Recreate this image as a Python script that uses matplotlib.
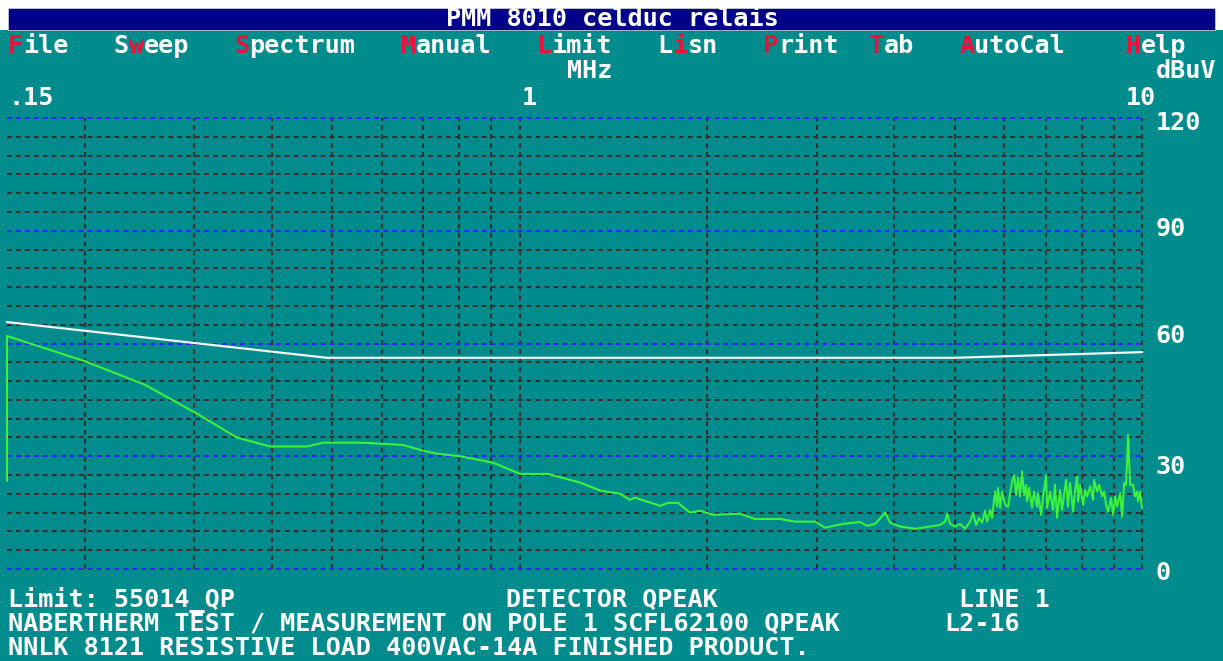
import matplotlib.pyplot as plt
from matplotlib.patches import Rectangle

# ---- screen text -------------------------------------------------------
TITLE = "PMM 8010 celduc relais"
# (column, word, index of the red hot key letter)
MENU = [(0, "File", 0), (7, "Sweep", 1), (15, "Spectrum", 0), (26, "Manual", 0),
        (35, "Limit", 0), (43, "Lisn", 1), (50, "Print", 0), (57, "Tab", 0),
        (63, "AutoCal", 0), (74, "Help", 0)]
X_UNIT = "MHz"
Y_UNIT = "dBuV"
FREQ_LABELS = [(0, ".15"), (34, "1"), (74, "10")]
LEVEL_LABELS = ["120", "90", "60", "30", "0"]
# (column, line, text)
FOOTER = [(0, 0, "Limit: 55014_QP"), (33, 0, "DETECTOR QPEAK"), (63, 0, "LINE 1"),
          (0, 1, "NABERTHERM TEST / MEASUREMENT ON POLE 1 SCFL62100 QPEAK"),
          (62, 1, "L2-16"),
          (0, 2, "NNLK 8121 RESISTIVE LOAD 400VAC-14A FINISHED PRODUCT.")]

# ---- data --------------------------------------------------------------
limit_mhz = [0.15, 0.49, 5.0, 10.0]
limit_db = [65.7, 56.2, 56.2, 57.7]

trace_mhz = [0.150, 0.150, 0.200, 0.250, 0.301, 0.351, 0.397, 0.455, 0.483, 0.560,
             0.649, 0.699, 0.736, 0.802, 0.906, 1.001, 1.110, 1.250, 1.346, 1.450,
             1.504, 1.532, 1.681, 1.731, 1.797, 1.878, 1.949, 2.045, 2.260, 2.389,
             2.621, 2.771, 2.983, 3.096, 3.308, 3.524, 3.616, 3.726, 3.866, 3.938,
             4.086, 4.318, 4.737,
             4.827, 4.863, 4.917, 5.008, 5.102, 5.197, 5.293, 5.353, 5.413, 5.473,
             5.534, 5.595, 5.638, 5.700, 5.742, 5.806, 5.849, 5.870, 5.916, 5.959,
             6.026, 6.093, 6.183, 6.230, 6.276, 6.322, 6.369, 6.416, 6.463, 6.511,
             6.535, 6.585, 6.658, 6.707, 6.782, 6.808, 6.883, 6.935, 7.012, 7.038,
             7.116, 7.195, 7.248, 7.304, 7.385, 7.439, 7.494, 7.551, 7.606, 7.662,
             7.750, 7.807, 7.865, 7.894, 7.953, 8.041, 8.103, 8.162, 8.253, 8.345,
             8.375, 8.468, 8.533, 8.628, 8.692, 8.756, 8.821, 8.919, 8.987, 9.054,
             9.120, 9.222, 9.290, 9.359, 9.428, 9.500, 9.570, 9.676, 9.747, 9.820,
             9.856, 9.929, 10.0]
trace_db = [23.5, 62.0, 55.3, 49.0, 41.6, 35.0, 32.6, 32.6, 33.6, 33.6,
            33.0, 31.5, 30.7, 30.0, 28.3, 25.3, 25.3, 23.0, 20.9, 20.0,
            18.4, 19.0, 16.8, 17.6, 17.6, 15.0, 15.5, 14.4, 14.7, 13.3,
            13.3, 12.6, 12.6, 11.0, 12.0, 12.5, 11.5, 12.0, 15.0, 12.3,
            11.3, 10.7, 11.7,
            12.6, 14.7, 12.0, 11.3, 12.0, 10.7, 12.6, 14.9, 11.7, 13.6,
            12.3, 15.5, 12.6, 15.7, 13.6, 20.6, 16.6, 21.6, 16.3, 20.6,
            17.0, 16.6, 23.3, 25.0, 19.7, 24.3, 19.3, 26.0, 19.7, 22.4,
            18.0, 21.6, 16.3, 20.6, 16.6, 20.2, 14.4, 19.3, 25.0, 16.3,
            20.6, 15.7, 22.4, 13.6, 21.0, 15.7, 19.7, 23.7, 16.6, 22.9,
            15.3, 21.0, 24.6, 18.0, 22.4, 17.0, 21.0, 19.3, 22.0, 18.4,
            23.7, 20.6, 22.4, 19.3, 20.6, 17.0, 15.3, 18.9, 14.4, 19.3,
            16.6, 20.2, 13.9, 22.9, 22.4, 35.7, 22.4, 22.4, 19.3, 20.6,
            18.0, 20.6, 16.3]

grid_db = list(range(0, 121, 5))
major_db = [0, 30, 60, 90, 120]
grid_mhz = [0.2, 0.3, 0.4, 0.5, 0.6, 0.7, 0.8, 0.9, 1, 2, 3, 4, 5, 6, 7, 8, 9, 10]

# ---- colours / layout --------------------------------------------------
W, H = 1223, 661
TEAL = "#008c8c"
NAVY = "#000088"
HOT = "#f0103c"
GRID = "#333333"
BLUE = "#2a2aff"
GREEN = "#3cf03c"
CW = 15.1                     # character cell width in px
FS = CW / 0.6021 * 72 / 100   # DejaVu Sans Mono advance is 0.602 em

fig = plt.figure(figsize=(W / 100, H / 100), dpi=100)
fig.patch.set_facecolor("white")
fig.add_artist(Rectangle((0, 0), 1, (H - 30) / H, transform=fig.transFigure,
                         facecolor=TEAL, edgecolor="none", zorder=0))
fig.add_artist(Rectangle((8 / W, (H - 30) / H), (1215 - 8) / W, 22 / H,
                         transform=fig.transFigure, facecolor=NAVY,
                         edgecolor="#c8c8dc", linewidth=0.6, zorder=1))


def put(col, base, s, color="white"):
    fig.text((8 + col * CW) / W, 1 - base / H, s, color=color,
             family="DejaVu Sans Mono", weight="bold", fontsize=FS,
             ha="left", va="baseline", zorder=5)


put(29, 26, TITLE)
for col, word, hot in MENU:
    if hot:
        put(col, 53, word[:hot])
    put(col + hot, 53, word[hot], HOT)
    put(col + hot + 1, 53, word[hot + 1:])
put(37, 78, X_UNIT)
put(76, 78, Y_UNIT)
for col, s in FREQ_LABELS:
    put(col, 105, s)
for s, base in zip(LEVEL_LABELS, [130, 236, 343, 474, 580]):
    put(76, base, s)
for col, line, s in FOOTER:
    put(col, 607 + 24 * line, s)

# ---- plot area ---------------------------------------------------------
ax = fig.add_axes([7 / W, (H - 569) / H, 1135 / W, 451 / H])
ax.set_xscale("log")
ax.set_xlim(0.15, 10)
ax.set_ylim(0, 120)
ax.axis("off")

dash = dict(linewidth=1.5, dashes=(2.3, 2.0), clip_on=False)
for v in grid_db:
    if v not in major_db:
        ax.axhline(v, color=GRID, zorder=2, **dash)
for f in grid_mhz:
    ax.axvline(f, color=GRID, zorder=2, **dash)
for v in major_db:
    ax.axhline(v, color=BLUE, zorder=2.5, **dash)

ax.plot(limit_mhz, limit_db, color="#f4f4f4", linewidth=1.6, zorder=3, clip_on=False)
ax.plot(trace_mhz, trace_db, color=GREEN, linewidth=1.5, zorder=4, clip_on=False)

fig.savefig("out.png", dpi=100, facecolor=fig.get_facecolor())
